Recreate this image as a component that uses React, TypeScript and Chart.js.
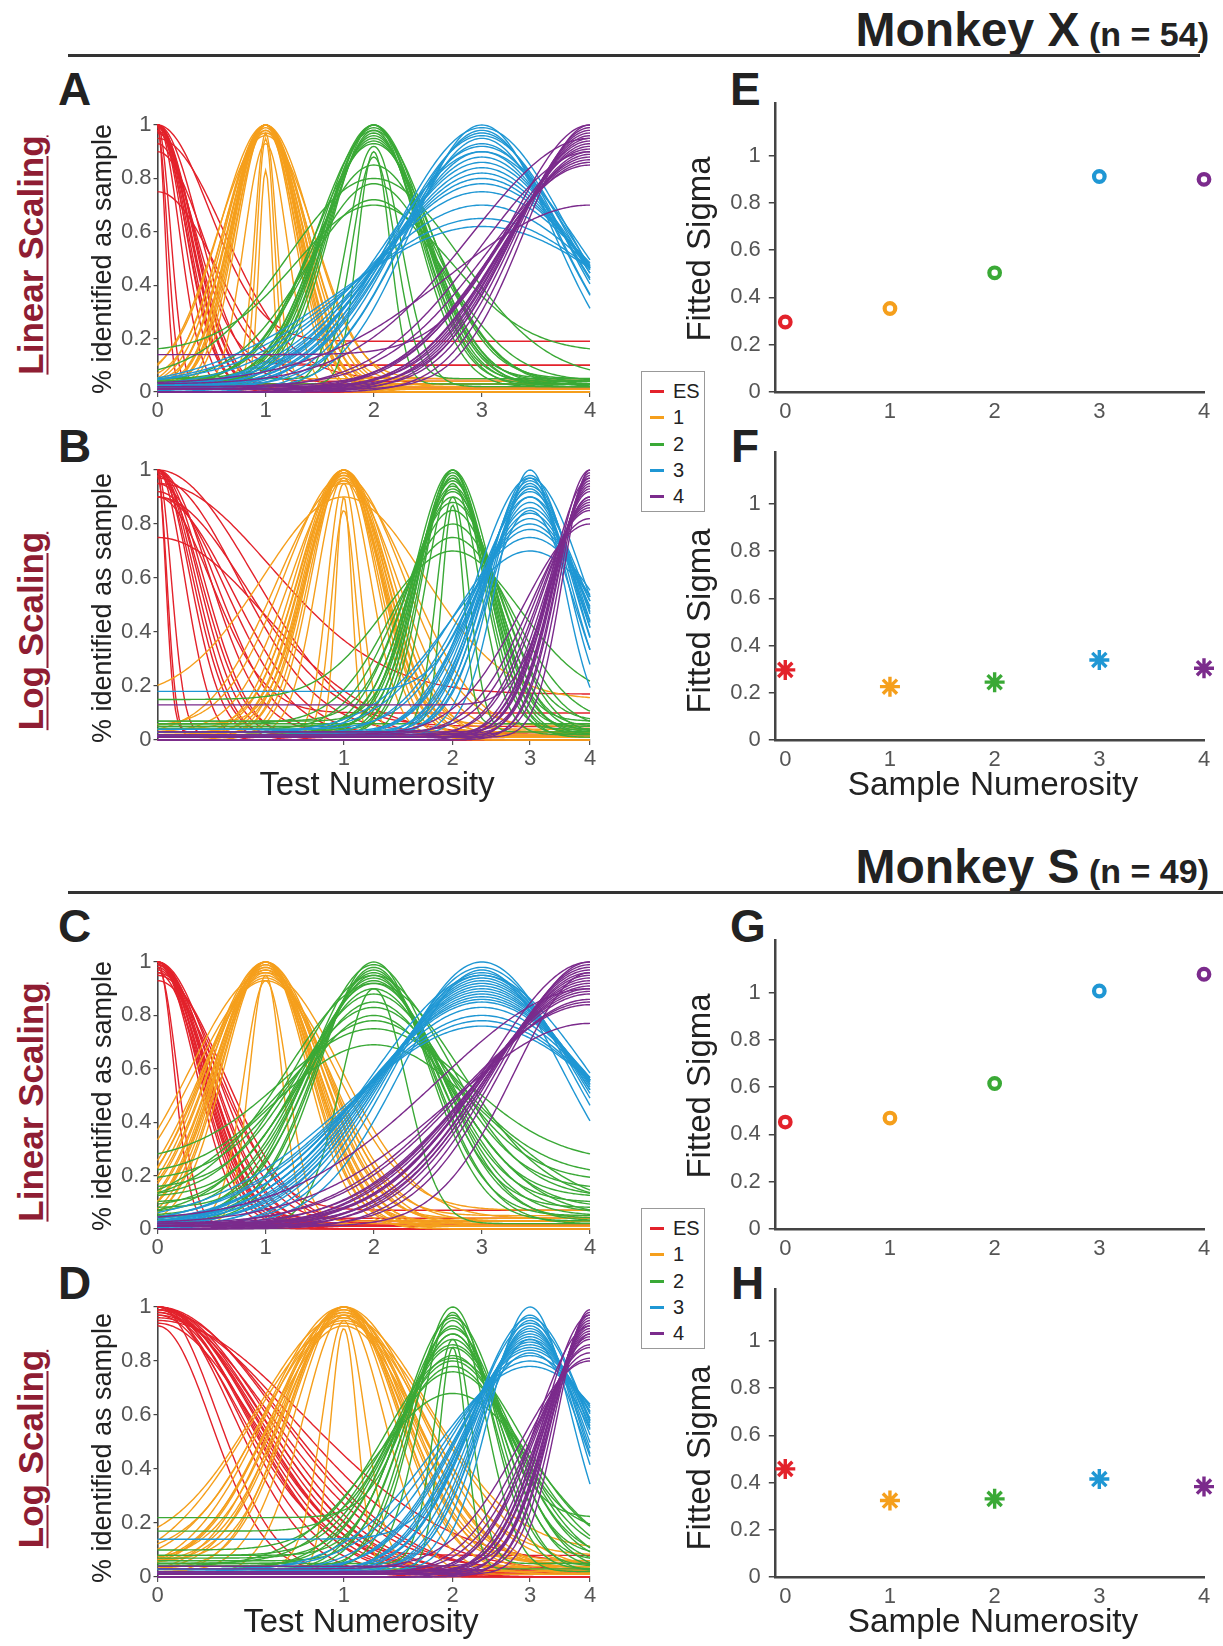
import React, { useEffect, useRef } from "react";
import { Chart, registerables } from "chart.js";

Chart.register(...registerables);

const FONT = "'Liberation Sans', Arial, Helvetica, sans-serif";

// ---------- categories / labels ----------
const CLASS_LABELS = ["ES", "1", "2", "3", "4"];
const SAMPLE_NUMEROSITY = [0, 1, 2, 3, 4];
const COLORS = ["#e3222b", "#f59f1c", "#3aa936", "#1f97d4", "#7b2b8c"];
const LIN_X_TICKS = [0, 1, 2, 3, 4];
const SIGMA_Y_TICKS = [0, 0.2, 0.4, 0.6, 0.8, 1];
const PCT_Y_TICKS = [0, 0.2, 0.4, 0.6, 0.8, 1];

// ---------- fitted sigma (panels E, F, G, H) ----------
const SIGMA_X_LINEAR = [0.296, 0.353, 0.504, 0.911, 0.899];
const SIGMA_X_LOG = [0.297, 0.226, 0.245, 0.339, 0.304];
const SIGMA_S_LINEAR = [0.452, 0.469, 0.615, 1.006, 1.077];
const SIGMA_S_LOG = [0.458, 0.324, 0.331, 0.415, 0.383];

// ---------- Gaussian fit parameters per neuron: [sigma, peak, baseline] ----------
// Panel A (Monkey X, linear scale)
const A_ES = [[0.07,1,0.01],[0.09,0.98,0.02],[0.12,1,0],[0.2,1,0.01],[0.24,1,0],[0.26,1,0.02],[0.27,0.98,0.01],[0.28,1,0],[0.29,1,0.03],[0.3,1,0.01],[0.31,0.99,0],[0.32,1,0.02],[0.33,1,0.01],[0.35,0.97,0],[0.38,1,0.04],[0.42,0.9,0.1],[0.48,1,0.19],[0.55,0.75,0.02],[0.62,0.95,0.05],[0.35,0.93,0.1]];
const A_1 = [[0.06,0.83,0.02],[0.08,0.95,0.03],[0.1,0.97,0.05],[0.26,1,0.01],[0.28,1,0],[0.29,0.98,0.02],[0.3,1,0.01],[0.31,1,0],[0.32,1,0.02],[0.32,0.99,0.01],[0.33,1,0],[0.34,1,0.03],[0.35,1,0.01],[0.36,0.98,0],[0.37,1,0.02],[0.38,1,0.04],[0.4,0.97,0.01],[0.42,1,0.05],[0.45,0.96,0.02],[0.2,0.93,0]];
const A_2 = [[0.15,0.9,0.03],[0.2,0.88,0.05],[0.25,0.92,0.02],[0.4,1,0.02],[0.42,0.98,0.03],[0.43,1,0.04],[0.44,0.97,0.02],[0.45,1,0.03],[0.46,0.99,0.05],[0.47,0.96,0.03],[0.48,1,0.04],[0.49,0.95,0.02],[0.5,0.94,0.03],[0.52,0.98,0.05],[0.55,0.93,0.04],[0.58,0.85,0.03],[0.6,0.78,0.02],[0.65,0.72,0.04],[0.72,0.7,0.15],[0.8,0.8,0.05]];
const A_3 = [[0.65,1,0.01],[0.7,0.98,0.02],[0.72,0.95,0],[0.75,0.97,0.01],[0.78,0.93,0.02],[0.8,0.96,0.01],[0.82,0.9,0],[0.85,0.92,0.02],[0.85,0.88,0.01],[0.88,0.86,0.03],[0.9,0.84,0.01],[0.9,0.9,0.02],[0.93,0.82,0],[0.95,0.8,0.02],[1.0,0.78,0.01],[1.05,0.75,0.02],[1.1,0.7,0.03],[1.2,0.65,0.02],[1.3,0.62,0.01],[0.8,0.99,0.02]];
const A_4 = [[0.6,1,0.01],[0.65,0.99,0],[0.68,0.98,0.01],[0.7,0.97,0.02],[0.72,0.96,0],[0.73,0.95,0.01],[0.75,0.94,0.02],[0.76,0.93,0],[0.78,0.92,0.01],[0.8,0.9,0.01],[0.82,0.89,0],[0.85,0.88,0.02],[0.88,0.87,0.01],[0.9,0.86,0],[0.95,0.85,0.02],[1.0,0.9,0.01],[1.1,0.95,0.03],[1.3,0.7,0.03],[0.7,1,0.14],[0.85,0.91,0.01]];

// Panel B (Monkey X, log scale; sigma in ln units)
const B_ES = [[0.03,1,0.03],[0.035,0.98,0.01],[0.05,1,0.02],[0.1,1,0],[0.12,1,0.01],[0.13,0.99,0.02],[0.14,1,0],[0.15,1,0.01],[0.16,0.98,0.02],[0.17,1,0],[0.19,1,0.03],[0.22,0.95,0.01],[0.25,0.92,0.02],[0.28,0.9,0.01],[0.3,0.97,0.03],[0.33,0.9,0.05],[0.36,1,0],[0.4,0.75,0.02],[0.42,0.95,0.17],[0.2,0.9,0.1]];
const B_1 = [[0.03,0.9,0.02],[0.045,0.85,0.03],[0.06,0.95,0.01],[0.1,0.97,0.02],[0.12,1,0.01],[0.13,0.99,0],[0.135,1,0.02],[0.14,1,0.01],[0.145,0.98,0.03],[0.15,1,0],[0.155,1,0.02],[0.16,0.99,0.01],[0.165,1,0.04],[0.17,0.97,0.02],[0.18,1,0.01],[0.2,0.96,0.03],[0.22,0.98,0.05],[0.25,0.95,0.02],[0.3,0.9,0.15],[0.14,0.96,0.06]];
const B_2 = [[0.04,0.87,0.06],[0.06,0.9,0.03],[0.1,0.95,0.02],[0.11,1,0.04],[0.12,0.98,0.02],[0.125,1,0.03],[0.13,0.97,0.05],[0.135,0.99,0.02],[0.14,0.96,0.04],[0.145,1,0.03],[0.15,0.94,0.02],[0.155,0.92,0.05],[0.16,0.9,0.03],[0.17,0.88,0.07],[0.18,0.85,0.02],[0.2,0.8,0.04],[0.22,0.75,0.06],[0.25,0.7,0.15],[0.14,0.93,0.07],[0.13,0.97,0.01]];
const B_3 = [[0.12,1,0.02],[0.14,0.97,0.01],[0.15,0.95,0.03],[0.16,0.98,0.02],[0.165,0.93,0.01],[0.17,0.96,0.02],[0.175,0.9,0.03],[0.18,0.94,0.01],[0.185,0.88,0.02],[0.19,0.92,0.01],[0.2,0.86,0.03],[0.21,0.84,0.02],[0.22,0.82,0.01],[0.23,0.8,0.04],[0.25,0.78,0.02],[0.28,0.75,0.03],[0.18,0.9,0.18],[0.2,0.97,0.02],[0.16,0.85,0.02],[0.3,0.7,0.03]];
const B_4 = [[0.1,1,0.01],[0.11,0.99,0.02],[0.12,0.98,0.01],[0.125,0.97,0],[0.13,0.96,0.02],[0.135,0.95,0.01],[0.14,0.94,0],[0.145,0.93,0.02],[0.15,0.92,0.01],[0.155,0.9,0.02],[0.16,0.89,0.01],[0.17,0.88,0],[0.18,0.87,0.02],[0.19,0.86,0.01],[0.2,0.85,0.03],[0.22,0.82,0.02],[0.25,0.8,0.02],[0.14,0.9,0.13],[0.13,1,0.03],[0.15,0.97,0.01]];

// Panel C (Monkey S, linear scale)
const C_ES = [[0.15,1,0.02],[0.18,0.98,0.01],[0.35,1,0],[0.37,1,0.01],[0.38,0.99,0.02],[0.4,1,0],[0.41,1,0.01],[0.42,0.98,0.02],[0.43,1,0.01],[0.44,1,0],[0.45,0.99,0.02],[0.46,1,0.01],[0.47,0.97,0],[0.48,1,0.02],[0.5,0.99,0.01],[0.52,1,0.03],[0.55,0.93,0.07],[0.58,0.96,0.02],[0.62,0.95,0.01],[0.4,0.96,0.04]];
const C_1 = [[0.15,0.95,0.02],[0.2,0.93,0.03],[0.38,1,0.01],[0.4,1,0.02],[0.42,0.99,0],[0.43,1,0.01],[0.44,0.98,0.03],[0.45,1,0.02],[0.46,0.97,0.01],[0.47,1,0],[0.48,0.99,0.02],[0.5,1,0.04],[0.5,0.96,0.01],[0.52,0.98,0.03],[0.54,1,0.02],[0.56,0.95,0.05],[0.58,0.97,0.01],[0.6,0.94,0.03],[0.65,0.93,0.07],[0.7,0.96,0.04]];
const C_2 = [[0.3,0.9,0.02],[0.5,1,0.03],[0.52,0.98,0.05],[0.55,0.97,0.02],[0.56,0.95,0.08],[0.58,0.96,0.04],[0.6,0.94,0.1],[0.62,0.93,0.05],[0.64,0.92,0.12],[0.66,0.9,0.06],[0.68,0.88,0.15],[0.7,0.85,0.08],[0.72,0.83,0.18],[0.75,0.8,0.05],[0.78,0.78,0.2],[0.8,0.92,0.1],[0.85,0.75,0.25],[1.0,0.69,0.06],[0.6,0.99,0.03],[0.7,0.95,0.12]];
const C_3 = [[0.8,1,0.01],[0.85,0.98,0],[0.88,0.96,0.01],[0.9,0.95,0.02],[0.92,0.94,0],[0.94,0.93,0.01],[0.96,0.92,0.02],[0.98,0.91,0],[1.0,0.9,0.01],[1.02,0.89,0.02],[1.04,0.88,0.01],[1.06,0.87,0],[1.08,0.86,0.02],[1.1,0.85,0.01],[1.12,0.83,0],[1.15,0.8,0.02],[1.2,0.78,0.01],[1.25,0.76,0.02],[0.75,0.97,0.01],[1.0,0.95,0.02]];
const C_4 = [[0.8,1,0.01],[0.85,0.99,0],[0.88,0.98,0.01],[0.9,0.97,0.02],[0.92,0.96,0],[0.94,0.95,0.01],[0.96,0.94,0],[0.98,0.93,0.02],[1.0,0.92,0.01],[1.02,0.91,0],[1.04,0.9,0.01],[1.06,0.89,0.02],[1.08,0.88,0],[1.1,0.86,0.01],[1.15,0.85,0.02],[1.2,0.84,0.01],[1.3,0.77,0.02],[0.7,0.96,0.01],[1.4,0.9,0.03],[0.95,1,0.02]];

// Panel D (Monkey S, log scale; sigma in ln units)
const D_ES = [[0.2,0.93,0.02],[0.22,1,0.01],[0.28,1,0],[0.3,0.99,0.01],[0.32,1,0.02],[0.33,1,0],[0.34,0.98,0.01],[0.35,1,0.02],[0.36,1,0],[0.37,0.99,0.01],[0.38,1,0.02],[0.39,0.98,0],[0.4,1,0.01],[0.42,0.97,0.03],[0.44,1,0.02],[0.46,0.99,0.01],[0.5,0.96,0.02],[0.55,0.95,0.04],[0.36,0.94,0.01],[0.3,0.97,0.08]];
const D_1 = [[0.05,0.92,0.02],[0.08,0.95,0.04],[0.15,0.97,0.01],[0.18,1,0.02],[0.2,0.99,0.03],[0.21,1,0.01],[0.22,0.98,0.05],[0.23,1,0.02],[0.24,0.97,0.06],[0.25,1,0.01],[0.26,0.99,0.03],[0.27,0.96,0.02],[0.28,1,0.08],[0.29,0.98,0.01],[0.3,0.95,0.04],[0.32,0.97,0.1],[0.34,0.94,0.02],[0.23,0.96,0.05],[0.27,0.93,0.03],[0.2,1,0.06]];
const D_2 = [[0.05,0.85,0.03],[0.07,0.88,0.05],[0.12,0.98,0.02],[0.14,1,0.03],[0.15,0.95,0.04],[0.16,0.97,0.02],[0.17,0.93,0.06],[0.18,0.9,0.03],[0.19,0.92,0.05],[0.2,0.88,0.02],[0.21,0.85,0.07],[0.22,0.82,0.04],[0.23,0.8,0.08],[0.24,0.78,0.03],[0.26,0.76,0.05],[0.3,0.68,0.04],[0.16,0.9,0.22],[0.2,0.86,0.17],[0.18,0.96,0.08],[0.25,0.81,0.1]];
const D_3 = [[0.15,1,0.02],[0.17,0.97,0.01],[0.18,0.95,0.03],[0.19,0.93,0.02],[0.2,0.92,0.01],[0.21,0.91,0.02],[0.22,0.9,0.03],[0.23,0.89,0.01],[0.24,0.88,0.02],[0.25,0.87,0.01],[0.26,0.86,0.03],[0.27,0.85,0.02],[0.28,0.84,0.01],[0.3,0.82,0.02],[0.32,0.8,0.03],[0.2,0.96,0.14],[0.22,0.94,0.02],[0.19,0.88,0.01],[0.24,0.83,0.02],[0.35,0.78,0.02]];
const D_4 = [[0.12,0.99,0.01],[0.13,0.98,0.02],[0.14,0.97,0.01],[0.145,0.96,0],[0.15,0.95,0.02],[0.155,0.94,0.01],[0.16,0.93,0],[0.165,0.92,0.02],[0.17,0.91,0.01],[0.175,0.9,0.02],[0.18,0.89,0.01],[0.19,0.88,0],[0.2,0.86,0.02],[0.21,0.85,0.01],[0.22,0.83,0.02],[0.24,0.81,0.01],[0.26,0.8,0.03],[0.15,0.9,0.04],[0.17,0.97,0.02],[0.2,0.93,0.01]];

const SAMPLES = 240;
const LN5 = Math.log(5);

function fitCurve(k: number, c: number[], log: boolean) {
  const [s, p, b] = c;
  const pts: { x: number; y: number }[] = [];
  for (let i = 0; i <= SAMPLES; i++) {
    if (log) {
      const u = (i / SAMPLES) * LN5;
      const d = u - Math.log(k + 1);
      pts.push({ x: Math.min(5, Math.exp(u)), y: b + (p - b) * Math.exp(-(d * d) / (2 * s * s)) });
    } else {
      const x = (i / SAMPLES) * 4;
      const d = x - k;
      pts.push({ x, y: b + (p - b) * Math.exp(-(d * d) / (2 * s * s)) });
    }
  }
  return pts;
}

const fmtY = (v: number) => (Math.abs(v) < 1e-9 ? "0" : Math.abs(v - 1) < 1e-9 ? "1" : Number(v).toFixed(1));

const SZ = { tick: 22, pct: 27, test: 32.8, sample: 33.3, fitted: 33, legend: 20, n: 34 };

// draws axis titles at given page positions (relative to the canvas)
const freeTitles = {
  id: "freeTitles",
  afterDraw(chart: any, _args: any, opts: any) {
    const items = (opts && opts.items) || [];
    const ctx = chart.ctx;
    items.forEach((it: any) => {
      ctx.save();
      ctx.translate(it.x, it.y);
      if (it.rot) ctx.rotate(it.rot);
      ctx.font = `${it.size}px ${FONT}`;
      ctx.fillStyle = "#222";
      ctx.textAlign = "center";
      ctx.textBaseline = "middle";
      ctx.fillText(it.text, 0, 0);
      ctx.restore();
    });
  },
};

type Geo = { x: number; y: number; w: number; h: number; pt: number; pr: number; yw: number; xh: number };
type TitleSpec = { text: string; px: number; py: number; rot?: number; size: number };

function CurvePanel(props: { g: Geo; curves: number[][][]; log: boolean; zero: boolean; titles: TitleSpec[] }) {
  const ref = useRef<HTMLCanvasElement>(null);
  useEffect(() => {
    const { g, curves, log, zero } = props;
    const datasets: any[] = [];
    curves.forEach((list, k) =>
      list.forEach((c) =>
        datasets.push({
          data: fitCurve(SAMPLE_NUMEROSITY[k], c, log),
          borderColor: COLORS[k],
          borderWidth: 1.4,
          pointRadius: 0,
          tension: 0,
          fill: false,
          order: 10 - k,
          clip: 3,
        })
      )
    );
    const xTicks = log ? (zero ? [1, 2, 3, 4, 5] : [2, 3, 4, 5]) : LIN_X_TICKS;
    const chart = new Chart(ref.current as HTMLCanvasElement, {
      type: "line",
      data: { datasets },
      plugins: [freeTitles],
      options: {
        animation: false,
        responsive: false,
        events: [],
        parsing: false,
        normalized: true,
        layout: { padding: { top: g.pt, right: g.pr, left: 0, bottom: 0 } },
        plugins: {
          legend: { display: false },
          tooltip: { enabled: false },
          freeTitles: { items: props.titles.map((t) => ({ text: t.text, x: t.px - g.x, y: t.py - g.y, rot: t.rot || 0, size: t.size })) },
        },
        scales: {
          x: {
            type: log ? "logarithmic" : "linear",
            min: log ? 1 : 0,
            max: log ? 5 : 4,
            afterBuildTicks: (sc: any) => {
              sc.ticks = xTicks.map((v) => ({ value: v }));
            },
            afterFit: (sc: any) => {
              sc.height = g.xh;
            },
            ticks: {
              autoSkip: false,
              maxRotation: 0,
              padding: 1,
              color: "#555",
              font: { family: FONT, size: SZ.tick },
              callback: (v: any) => String(log ? Math.round(Number(v) - 1) : Math.round(Number(v))),
            },
            grid: { display: true, drawOnChartArea: false, drawTicks: true, tickLength: 5, color: "#555", lineWidth: 1.2 },
            border: { display: true, color: "#555", width: 1.2 },
            title: { display: false },
          } as any,
          y: {
            type: "linear",
            min: 0,
            max: 1,
            afterBuildTicks: (sc: any) => {
              sc.ticks = PCT_Y_TICKS.map((v) => ({ value: v }));
            },
            afterFit: (sc: any) => {
              sc.width = g.yw;
            },
            ticks: { padding: 2, color: "#555", font: { family: FONT, size: SZ.tick }, callback: (v: any) => fmtY(Number(v)) },
            grid: { display: true, drawOnChartArea: false, drawTicks: true, tickLength: 4, color: "#444", lineWidth: 1.2 },
            border: { display: true, color: "#444", width: 1.6 },
            title: { display: false },
          },
        },
      } as any,
    });
    return () => chart.destroy();
  }, []);
  const { g } = props;
  return <canvas ref={ref} width={g.w} height={g.h} style={{ position: "absolute", left: g.x, top: g.y }} />;
}

function SigmaPanel(props: { g: Geo; sigma: number[]; star: boolean; titles: TitleSpec[] }) {
  const ref = useRef<HTMLCanvasElement>(null);
  useEffect(() => {
    const { g, sigma, star } = props;
    const chart = new Chart(ref.current as HTMLCanvasElement, {
      type: "scatter",
      data: {
        datasets: [
          {
            data: SAMPLE_NUMEROSITY.map((x, i) => ({ x, y: sigma[i] })),
            pointStyle: star ? "star" : "circle",
            pointRadius: star ? 10 : 5.3,
            pointBorderWidth: star ? 3.4 : 4.2,
            pointBorderColor: COLORS,
            pointBackgroundColor: star ? COLORS : "#ffffff",
            borderColor: COLORS,
            backgroundColor: star ? COLORS : "#ffffff",
            clip: false,
          } as any,
        ],
      },
      plugins: [freeTitles],
      options: {
        animation: false,
        responsive: false,
        events: [],
        layout: { padding: { top: g.pt, right: g.pr, left: 0, bottom: 0 } },
        plugins: {
          legend: { display: false },
          tooltip: { enabled: false },
          freeTitles: { items: props.titles.map((t) => ({ text: t.text, x: t.px - g.x, y: t.py - g.y, rot: t.rot || 0, size: t.size })) },
        },
        scales: {
          x: {
            type: "linear",
            min: -0.1,
            max: 4,
            afterBuildTicks: (sc: any) => {
              sc.ticks = SAMPLE_NUMEROSITY.map((v) => ({ value: v }));
            },
            afterFit: (sc: any) => {
              sc.height = g.xh;
            },
            ticks: { autoSkip: false, maxRotation: 0, padding: 7, color: "#555", font: { family: FONT, size: SZ.tick }, callback: (v: any) => String(Math.round(Number(v))) },
            grid: { display: false, drawTicks: false },
            border: { display: true, color: "#444", width: 2.5 },
            title: { display: false },
          },
          y: {
            type: "linear",
            min: 0,
            max: 1.22,
            afterBuildTicks: (sc: any) => {
              sc.ticks = SIGMA_Y_TICKS.map((v) => ({ value: v }));
            },
            afterFit: (sc: any) => {
              sc.width = g.yw;
            },
            ticks: { padding: 8, color: "#555", font: { family: FONT, size: SZ.tick }, callback: (v: any) => fmtY(Number(v)) },
            grid: { display: true, drawOnChartArea: false, drawTicks: true, tickLength: 6, color: "#444", lineWidth: 1.5 },
            border: { display: true, color: "#444", width: 2.5 },
            title: { display: false },
          },
        },
      } as any,
    });
    return () => chart.destroy();
  }, []);
  const { g } = props;
  return <canvas ref={ref} width={g.w} height={g.h} style={{ position: "absolute", left: g.x, top: g.y }} />;
}

function Letter(props: { t: string; x: number; base: number; size?: number }) {
  const size = props.size || 46;
  return (
    <div style={{ position: "absolute", left: props.x, top: props.base - 0.8465 * size, fontFamily: FONT, fontWeight: "bold", fontSize: size, lineHeight: `${size}px`, color: "#222" }}>
      {props.t}
    </div>
  );
}

function SideLabel(props: { t: string; cx: number; cy: number }) {
  return (
    <div
      style={{
        position: "absolute",
        left: props.cx,
        top: props.cy,
        transform: "translate(-50%, -50%) rotate(-90deg)",
        whiteSpace: "nowrap",
        fontFamily: FONT,
        fontWeight: "bold",
        fontSize: 35,
        lineHeight: "35px",
        color: "#8f1d33",
        textDecoration: "underline",
        textDecorationThickness: "2px",
        textUnderlineOffset: "4px",
      }}
    >
      {props.t}
    </div>
  );
}

function Legend(props: { x: number; y: number }) {
  return (
    <div style={{ position: "absolute", left: props.x, top: props.y, width: 62, height: 139, border: "1px solid #999", background: "#fff", zIndex: 5 }}>
      {CLASS_LABELS.map((lab, i) => (
        <div key={lab} style={{ position: "absolute", left: 0, top: 6 + i * 26.3, height: 26, width: 62 }}>
          <div style={{ position: "absolute", left: 8, top: 12, width: 14, height: 3, background: COLORS[i] }} />
          <div style={{ position: "absolute", left: 31, top: 0, fontFamily: FONT, fontSize: SZ.legend, lineHeight: "26px", color: "#222" }}>{lab}</div>
        </div>
      ))}
    </div>
  );
}

function Section(props: {
  dy: number;
  monkey: string;
  n: string;
  ruleW: number;
  letters: string[];
  lin: number[][][];
  log: number[][][];
  logZero: boolean;
  sigLin: number[];
  sigLog: number[];
  linLabelY: number;
  logLabelY: number;
  logYTitleY: number;
  testX: number;
}) {
  const dy = props.dy;
  const UP = -Math.PI / 2;
  return (
    <>
      <div style={{ position: "absolute", right: 14, top: 6.4 + dy, fontFamily: FONT, fontWeight: "bold", fontSize: 48, lineHeight: "48px", color: "#222", whiteSpace: "nowrap" }}>
        {props.monkey}
        <span style={{ fontSize: SZ.n }}> {props.n}</span>
      </div>
      <div style={{ position: "absolute", left: 68, top: 53.5 + dy, width: props.ruleW, height: 3, background: "#333" }} />
      <SideLabel t="Linear Scaling" cx={30} cy={props.linLabelY} />
      <SideLabel t="Log Scaling" cx={30} cy={props.logLabelY} />
      <Letter t={props.letters[0]} x={58} base={105 + dy} />
      <Letter t={props.letters[1]} x={58} base={462 + dy} />
      <Letter t={props.letters[2]} x={730} base={105 + dy} />
      <Letter t={props.letters[3]} x={731} base={462 + dy} />
      <CurvePanel
        g={{ x: 50, y: 101 + dy, w: 560, h: 331, pt: 24, pr: 20, yw: 107.5, xh: 40 }}
        curves={props.lin}
        log={false}
        zero={true}
        titles={[{ text: "% identified as sample", px: 104, py: 259 + dy, rot: UP, size: SZ.pct }]}
      />
      <CurvePanel
        g={{ x: 50, y: 446 + dy, w: 560, h: 369, pt: 24, pr: 20, yw: 107.5, xh: 75 }}
        curves={props.log}
        log={true}
        zero={props.logZero}
        titles={[
          { text: "% identified as sample", px: 104, py: props.logYTitleY, rot: UP, size: SZ.pct },
          { text: "Test Numerosity", px: props.testX, py: 786 + dy, size: SZ.test },
        ]}
      />
      <SigmaPanel
        g={{ x: 675, y: 79 + dy, w: 545, h: 353, pt: 24.4, pr: 16, yw: 99.8, xh: 40 }}
        sigma={props.sigLin}
        star={false}
        titles={[{ text: "Fitted Sigma", px: 701, py: 249 + dy, rot: UP, size: SZ.fitted }]}
      />
      <SigmaPanel
        g={{ x: 675, y: 428 + dy, w: 545, h: 387, pt: 24, pr: 16, yw: 99.8, xh: 75 }}
        sigma={props.sigLog}
        star={true}
        titles={[
          { text: "Fitted Sigma", px: 701, py: 621 + dy, rot: UP, size: SZ.fitted },
          { text: "Sample Numerosity", px: 993, py: 786 + dy, size: SZ.sample },
        ]}
      />
      <Legend x={641} y={371 + dy} />
    </>
  );
}

export default function App() {
  return (
    <div style={{ position: "absolute", left: 0, top: 0, width: 1223, height: 1646, background: "#fff", overflow: "hidden" }}>
      <Section
        dy={0}
        monkey="Monkey X"
        n="(n = 54)"
        ruleW={1132}
        letters={["A", "B", "E", "F"]}
        lin={[A_ES, A_1, A_2, A_3, A_4]}
        log={[B_ES, B_1, B_2, B_3, B_4]}
        logZero={false}
        sigLin={SIGMA_X_LINEAR}
        sigLog={SIGMA_X_LOG}
        linLabelY={255}
        logLabelY={631}
        logYTitleY={608}
        testX={377}
      />
      <Section
        dy={837}
        monkey="Monkey S"
        n="(n = 49)"
        ruleW={1155}
        letters={["C", "D", "G", "H"]}
        lin={[C_ES, C_1, C_2, C_3, C_4]}
        log={[D_ES, D_1, D_2, D_3, D_4]}
        logZero={true}
        sigLin={SIGMA_S_LINEAR}
        sigLog={SIGMA_S_LOG}
        linLabelY={1102}
        logLabelY={1449}
        logYTitleY={1448}
        testX={361}
      />
    </div>
  );
}
